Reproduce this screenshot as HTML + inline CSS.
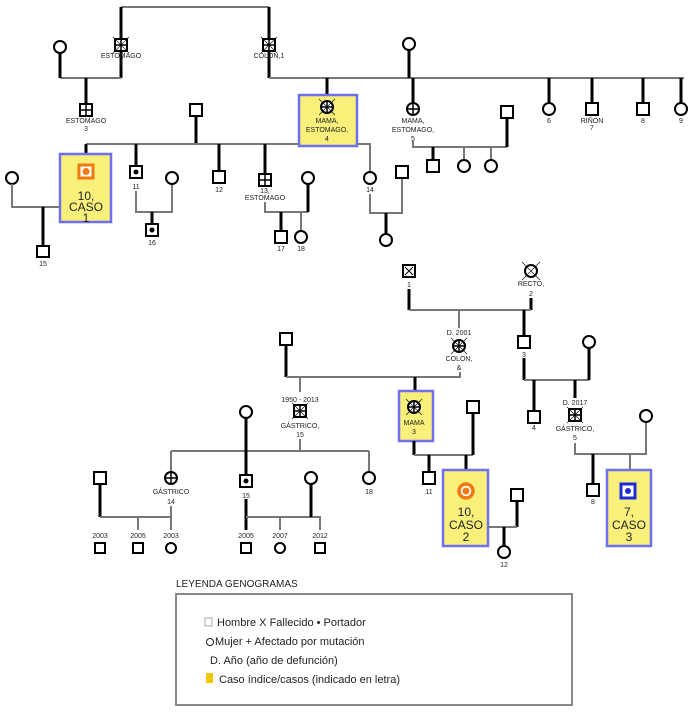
<!DOCTYPE html>
<html><head><meta charset="utf-8"><style>
html,body{margin:0;padding:0;background:#fff;width:700px;height:719px;overflow:hidden}
svg text{font-family:"Liberation Sans",sans-serif;fill:#222}
</style></head><body>
<svg width="700" height="719" viewBox="0 0 700 719" xmlns="http://www.w3.org/2000/svg">
<defs>
<style>
.g{stroke:#777;stroke-width:2;fill:none}
.k{stroke:#000;stroke-width:3;fill:none}
.s{stroke:#000;stroke-width:2;fill:#fff}
.t{font-size:7px;text-anchor:middle}
.b{font-size:12px;text-anchor:middle}
.box{fill:#f8f07a;stroke:#6f6ff0;stroke-width:2.5}
</style>
</defs>
<!-- ===== TOP GENOGRAM ===== -->
<path class="g" d="M121 7H269"/>
<path class="k" d="M121 7V40M269 7V40"/>
<path class="k" d="M121 50V78"/><path class="g" d="M121 78H60"/><path class="k" d="M60 53V78"/>
<path class="k" d="M269 50V78"/><path class="g" d="M269 78H684"/>
<path class="k" d="M86 78V104"/>
<path class="k" d="M409 50V78"/>
<path class="k" d="M327 78V95M413 78V103M549 78V103M592 78V103M643 78V103M681 78V103"/>
<!-- gen 1 -->
<rect class="s" x="115" y="39" width="12" height="12"/><path d="M121 39V51M115 45H127" stroke="#000" stroke-width="1.5"/>
<path d="M113 37l16 16M129 37l-16 16" stroke="#000" stroke-width=".6"/>
<text class="t" x="121" y="58">ESTOMAGO</text><text class="t" x="121" y="65">2</text>
<rect class="s" x="263" y="39" width="12" height="12"/><path d="M269 39V51M263 45H275" stroke="#000" stroke-width="1.5"/>
<path d="M261 37l16 16M277 37l-16 16" stroke="#000" stroke-width=".6"/>
<text class="t" x="269" y="58">COLON,1</text>
<circle class="s" cx="60" cy="47" r="6"/>
<circle class="s" cx="409" cy="44" r="6"/>
<!-- gen 2 -->
<rect class="s" x="80" y="104" width="12" height="12"/><path d="M86 104V116M80 110H92" stroke="#000" stroke-width="1.5"/>
<text class="t" x="86" y="123">ESTOMAGO</text><text class="t" x="86" y="131">3</text>
<rect class="box" x="299" y="95" width="58" height="51"/>
<circle class="s" cx="327" cy="107" r="6"/><path d="M327 101V113M321 107H333" stroke="#000" stroke-width="1.5"/>
<path d="M319 99l16 16M335 99l-16 16" stroke="#000" stroke-width=".6"/>
<text class="t" x="327" y="123">MAMA,</text><text class="t" x="327" y="132">ESTOMAGO,</text><text class="t" x="327" y="141">4</text>
<circle class="s" cx="413" cy="109" r="6"/><path d="M413 103V115M407 109H419" stroke="#000" stroke-width="1.5"/>
<text class="t" x="413" y="123">MAMA,</text><text class="t" x="413" y="132">ESTOMAGO,</text><text class="t" x="413" y="141">5</text>
<circle class="s" cx="549" cy="109" r="6"/><text class="t" x="549" y="123">6</text>
<rect class="s" x="586" y="103" width="12" height="12"/><text class="t" x="592" y="123">RIÑON</text><text class="t" x="592" y="130">7</text>
<rect class="s" x="637" y="103" width="12" height="12"/><text class="t" x="643" y="123">8</text>
<circle class="s" cx="681" cy="109" r="6"/><text class="t" x="681" y="123">9</text>
<!-- gen3 family of 4 -->
<rect class="s" x="190" y="104" width="12" height="12"/>
<path class="k" d="M196 116V144"/>
<path class="g" d="M86 144H299M357 144H370V172"/>
<path class="k" d="M86 144V154M136 144V166M219 144V171M265 144V174"/>
<!-- family of 5 -->
<path class="g" d="M413 141V147H507"/><path class="k" d="M507 118V147"/>
<rect class="s" x="501" y="106" width="12" height="12"/>
<path class="k" d="M433 147V160"/><path class="g" d="M464 147V160M491 147V160"/>
<rect class="s" x="427" y="160" width="12" height="12"/>
<circle class="s" cx="464" cy="166" r="6"/><circle class="s" cx="491" cy="166" r="6"/>
<!-- case 1 -->
<rect class="box" x="60" y="154" width="51" height="68"/>
<rect x="79" y="165" width="14" height="13" fill="#fff" stroke="#f07a10" stroke-width="3"/><circle cx="86" cy="171.5" r="3.5" fill="#f07a10"/>
<text class="b" x="86" y="200">10,</text><text class="b" x="86" y="211">CASO</text><text class="b" x="86" y="222">1</text>
<circle class="s" cx="12" cy="178" r="6"/><path class="g" d="M12 184V207H60"/>
<path class="k" d="M43 207V246"/>
<rect class="s" x="37" y="246" width="12" height="11"/><text class="t" x="43" y="266">15</text>
<!-- 11 -->
<rect class="s" x="130" y="166" width="12" height="12"/><circle cx="136" cy="172" r="2.5"/>
<text class="t" x="136" y="189">11</text>
<path class="g" d="M136 191V212H172V184"/><circle class="s" cx="172" cy="178" r="6"/>
<path class="k" d="M152 212V224"/><rect class="s" x="146" y="224" width="12" height="12"/><circle cx="152" cy="230" r="2.5"/>
<text class="t" x="152" y="245">16</text>
<!-- 12 -->
<rect class="s" x="213" y="171" width="12" height="12"/><text class="t" x="219" y="192">12</text>
<!-- 13 -->
<rect class="s" x="259" y="174" width="12" height="12"/><path d="M265 174V186M259 180H271" stroke="#000" stroke-width="1.5"/>
<text class="t" x="265" y="193">13,</text><text class="t" x="265" y="200">ESTOMAGO</text>
<path class="g" d="M265 202V212H308"/><path class="k" d="M308 184V212"/><circle class="s" cx="308" cy="178" r="6"/>
<path class="k" d="M281 212V231"/><path class="g" d="M301 212V231"/>
<rect class="s" x="275" y="231" width="12" height="12"/><circle class="s" cx="301" cy="237" r="6"/>
<text class="t" x="281" y="251">17</text><text class="t" x="301" y="251">18</text>
<!-- 14 -->
<circle class="s" cx="370" cy="178" r="6"/><text class="t" x="370" y="192">14</text>
<path class="g" d="M370 194V213H402V178"/><rect class="s" x="396" y="166" width="12" height="12"/>
<path class="k" d="M386 213V234"/><circle class="s" cx="386" cy="240" r="6"/>
<!-- ===== BOTTOM GENOGRAM ===== -->
<rect class="s" x="403" y="265" width="12" height="12"/><path d="M405 267l8 8M413 267l-8 8" stroke="#000" stroke-width="1"/>
<text class="t" x="409" y="287">1</text>
<circle class="s" cx="531" cy="271" r="6"/><path d="M522 262l18 18M540 262l-18 18" stroke="#000" stroke-width=".6"/>
<text class="t" x="531" y="286">RECTO,</text><text class="t" x="531" y="296">2</text>
<path class="k" d="M409 289V310"/><path class="k" d="M531 298V310"/>
<path class="g" d="M409 310H531"/>
<path class="k" d="M524 310V336"/>
<path class="g" d="M459 310V328"/>
<text class="t" x="459" y="335">D. 2001</text>
<circle class="s" cx="459" cy="346" r="6"/><path d="M459 340V352M453 346H465" stroke="#000" stroke-width="1.5"/>
<path d="M451 338l16 16M467 338l-16 16" stroke="#000" stroke-width=".6"/>
<text class="t" x="459" y="361">COLON,</text><text class="t" x="459" y="370">&amp;</text>
<rect class="s" x="518" y="336" width="12" height="12"/><text class="t" x="524" y="357">3</text>
<!-- left family -->
<rect class="s" x="280" y="333" width="12" height="12"/>
<path class="k" d="M286 345V377"/><path class="g" d="M286 377H460V372"/>
<path class="k" d="M415 377V391"/>
<path class="g" d="M300 377V392"/>
<text class="t" x="300" y="402">1950 - 2013</text>
<rect class="s" x="294" y="405" width="12" height="12"/><path d="M300 405V417M294 411H306" stroke="#000" stroke-width="1.5"/>
<path d="M292 403l16 16M308 403l-16 16" stroke="#000" stroke-width=".6"/>
<text class="t" x="300" y="428">GÁSTRICO,</text><text class="t" x="300" y="437">15</text>
<path class="g" d="M300 439V451"/>
<path class="g" d="M171 451H369"/>
<circle class="s" cx="246" cy="412" r="6"/><path class="k" d="M246 418V475"/>
<path class="g" d="M171 451V472M369 451V472"/>
<circle class="s" cx="171" cy="478" r="6"/><path d="M171 472V484M165 478H177" stroke="#000" stroke-width="1.5"/>
<text class="t" x="171" y="494">GÁSTRICO</text><text class="t" x="171" y="504">14</text>
<rect class="s" x="240" y="475" width="12" height="12"/><circle cx="246" cy="481" r="2.5"/>
<text class="t" x="246" y="498">15</text>
<circle class="s" cx="369" cy="478" r="6"/><text class="t" x="369" y="494">18</text>
<rect class="s" x="94" y="472" width="12" height="12"/>
<path class="k" d="M100 484V517"/><path class="g" d="M100 517H171V506M138 517V530M171 517V530"/>
<text class="t" x="100" y="538">2003</text><text class="t" x="138" y="538">2005</text><text class="t" x="171" y="538">2003</text>
<rect class="s" x="95" y="543" width="10" height="10"/><rect class="s" x="133" y="543" width="10" height="10"/><circle class="s" cx="171" cy="548" r="5"/>
<path class="k" d="M246 499V530"/><path class="g" d="M246 517H320V530M280 517V530"/>
<circle class="s" cx="311" cy="478" r="6"/><path class="k" d="M311 484V517"/>
<text class="t" x="246" y="538">2005</text><text class="t" x="280" y="538">2007</text><text class="t" x="320" y="538">2012</text>
<rect class="s" x="241" y="543" width="10" height="10"/><circle class="s" cx="280" cy="548" r="5"/><rect class="s" x="315" y="543" width="10" height="10"/>
<!-- mama 3 -->
<rect class="box" x="399" y="391" width="34" height="50"/>
<circle class="s" cx="414" cy="407" r="6"/><path d="M414 401V413M408 407H420" stroke="#000" stroke-width="1.5"/>
<path d="M406 399l16 16M422 399l-16 16" stroke="#000" stroke-width=".6"/>
<text class="t" x="414" y="425">MAMA</text><text class="t" x="414" y="434">3</text>
<path class="k" d="M414 441V455"/><path class="g" d="M414 455H473"/><path class="k" d="M473 413V455"/>
<rect class="s" x="467" y="401" width="12" height="12"/>
<path class="k" d="M429 455V472M466 455V470"/>
<rect class="s" x="423" y="472" width="12" height="12"/><text class="t" x="429" y="494">11</text>
<rect class="box" x="443" y="470" width="45" height="76"/>
<circle cx="466" cy="491" r="7" fill="#fff" stroke="#f07a10" stroke-width="3.5"/><circle cx="466" cy="491" r="3.5" fill="#f07a10"/>
<text class="b" x="466" y="516">10,</text><text class="b" x="466" y="529">CASO</text><text class="b" x="466" y="541">2</text>
<rect class="s" x="511" y="489" width="12" height="12"/>
<path class="k" d="M517 501V527"/><path class="g" d="M488 527H517"/>
<path class="k" d="M504 527V546"/><circle class="s" cx="504" cy="552" r="6"/>
<text class="t" x="504" y="567">12</text>
<!-- right family -->
<path class="k" d="M524 358V380"/><path class="g" d="M524 380H589"/><path class="k" d="M589 348V380"/>
<circle class="s" cx="589" cy="342" r="6"/>
<path class="k" d="M534 380V411"/><rect class="s" x="528" y="411" width="12" height="12"/><text class="t" x="534" y="430">4</text>
<path class="k" d="M575 380V398"/>
<text class="t" x="575" y="405">D. 2017</text>
<rect class="s" x="569" y="409" width="12" height="12"/><path d="M575 409V421M569 415H581" stroke="#000" stroke-width="1.5"/>
<path d="M567 407l16 16M583 407l-16 16" stroke="#000" stroke-width=".6"/>
<text class="t" x="575" y="431">GÁSTRICO,</text><text class="t" x="575" y="440">5</text>
<path class="g" d="M575 443V454H646V422"/><circle class="s" cx="646" cy="416" r="6"/>
<path class="k" d="M593 454V484"/><path class="g" d="M630 454V470"/>
<rect class="s" x="587" y="484" width="12" height="12"/><text class="t" x="593" y="504">8</text>
<rect class="box" x="607" y="470" width="44" height="76"/>
<rect x="621" y="484" width="14" height="14" fill="#fff" stroke="#1c2ad8" stroke-width="3"/><circle cx="628" cy="491" r="3" fill="#1c2ad8"/>
<text class="b" x="629" y="516">7,</text><text class="b" x="629" y="529">CASO</text><text class="b" x="629" y="541">3</text>
<!-- ===== LEGEND ===== -->
<text x="176" y="587" style="font-size:10px">LEYENDA GENOGRAMAS</text>
<rect x="176" y="594" width="396" height="111" fill="#fff" stroke="#888" stroke-width="2"/>
<rect x="205" y="618" width="7" height="8" fill="#fff" stroke="#aaa" stroke-width="1"/>
<text x="217" y="626" style="font-size:11px">Hombre   X Fallecido  • Portador</text>
<circle cx="210" cy="642" r="3.5" fill="none" stroke="#222" stroke-width="1"/>
<text x="215" y="645" style="font-size:11px">Mujer     + Afectado por mutación</text>
<text x="210" y="664" style="font-size:11px">D. Año (año de defunción)</text>
<rect x="206" y="673" width="7" height="10" fill="#f0c800"/>
<text x="219" y="683" style="font-size:11px">Caso índice/casos (indicado en letra)</text>
</svg>
</body></html>
